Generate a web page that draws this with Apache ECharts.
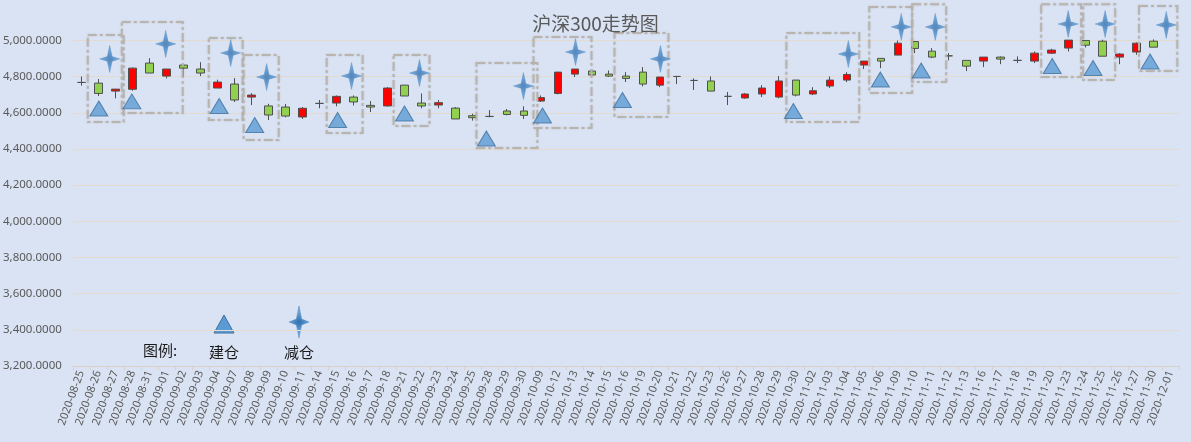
<!DOCTYPE html>
<html>
<head>
<meta charset="utf-8">
<script src="https://cdn.jsdelivr.net/npm/echarts@6/dist/echarts.min.js"></script>
<style>
  html, body { margin: 0; padding: 0; background: #dae3f3; }
  #main { width: 1191px; height: 442px; }
</style>
</head>
<body>
<div id="main"></div>
<script>
// 日期
var dates = ['2020-08-25','2020-08-26','2020-08-27','2020-08-28','2020-08-31',
  '2020-09-01','2020-09-02','2020-09-03','2020-09-04','2020-09-07','2020-09-08','2020-09-09',
  '2020-09-10','2020-09-11','2020-09-14','2020-09-15','2020-09-16','2020-09-17','2020-09-18',
  '2020-09-21','2020-09-22','2020-09-23','2020-09-24','2020-09-25','2020-09-28','2020-09-29',
  '2020-09-30','2020-10-09','2020-10-12','2020-10-13','2020-10-14','2020-10-15','2020-10-16',
  '2020-10-19','2020-10-20','2020-10-21','2020-10-22','2020-10-23','2020-10-26','2020-10-27',
  '2020-10-28','2020-10-29','2020-10-30','2020-11-02','2020-11-03','2020-11-04','2020-11-05',
  '2020-11-06','2020-11-09','2020-11-10','2020-11-11','2020-11-12','2020-11-13','2020-11-16',
  '2020-11-17','2020-11-18','2020-11-19','2020-11-20','2020-11-23','2020-11-24','2020-11-25',
  '2020-11-26','2020-11-27','2020-11-30','2020-12-01'];

// 开盘 / 收盘 / 最低 / 最高 (12-01 无数据)
var opens  = [4768,4764,4720,4730,4875,4803,4864,4842,4737,4759,4687,4638,4632,4577,4652,4654,4687,4641,4638,4753,4654,4643,4626,4584,4580,4610,4610,4665,4707,4814,4831,4814,4803,4825,4753,4801,4779,4776,4691,4682,4704,4687,4781,4704,4748,4781,4864,4901,4919,4994,4941,4915,4890,4886,4908,4890,4886,4930,4958,5000,4996,4908,4936,4996,'-'];
var closes = [4768,4707,4731,4847,4820,4842,4847,4820,4770,4671,4698,4588,4582,4625,4652,4691,4660,4632,4737,4693,4638,4656,4566,4573,4580,4591,4586,4684,4825,4842,4809,4803,4790,4759,4798,4801,4779,4720,4691,4704,4737,4776,4698,4722,4781,4812,4886,4886,4985,4956,4908,4915,4858,4908,4897,4890,4930,4947,5002,4974,4913,4925,4985,4963,'-'];
var lows   = [4750,4693,4680,4722,4820,4790,4799,4803,4737,4660,4643,4560,4575,4566,4625,4636,4641,4604,4634,4693,4625,4625,4566,4557,4575,4586,4566,4660,4702,4798,4809,4798,4770,4746,4742,4759,4726,4720,4643,4678,4687,4680,4691,4698,4737,4770,4842,4847,4919,4930,4902,4890,4831,4853,4869,4875,4875,4925,4939,4961,4913,4869,4921,4963,'-'];
var highs  = [4801,4787,4731,4851,4902,4842,4864,4880,4783,4792,4709,4650,4649,4632,4671,4696,4696,4665,4742,4753,4707,4671,4632,4595,4615,4621,4636,4696,4825,4842,4831,4834,4825,4853,4798,4801,4790,4801,4715,4709,4753,4803,4781,4742,4801,4825,4886,4901,5000,4994,4958,4930,4890,4908,4912,4912,4939,4954,5002,5000,5004,4930,4989,5006,'-'];

// y 轴刻度
var yTicks = [3200, 3400, 3600, 3800, 4000, 4200, 4400, 4600, 4800, 5000];

// 建仓标记 (x 为日期序号)
var buyX = [1.03, 2.97, 8.1, 10.19, 15.06, 18.99, 23.8, 27.1, 31.8, 41.84, 46.95, 49.35, 57.05, 59.45, 62.8];
var buyY = [4624, 4663, 4638, 4533, 4560, 4596, 4458, 4585, 4671, 4610, 4784, 4834, 4859, 4848, 4884];

// 减仓标记
var sellX = [1.67, 4.96, 8.78, 10.89, 15.88, 19.87, 25.98, 29.04, 34.03, 45.07, 48.18, 50.18, 57.99, 60.16, 63.75];
var sellY = [4898, 4981, 4931, 4798, 4804, 4820, 4748, 4936, 4898, 4925, 5075, 5075, 5091, 5091, 5086];

// 虚线框 起止序号 / 上下值
var boxX1 = [0.38, 2.38, 7.49, 9.54, 14.42, 18.35, 23.22, 26.57, 31.33, 41.43, 46.3, 48.82, 56.4, 58.87, 62.15];
var boxX2 = [2.49, 5.96, 9.48, 11.6, 16.53, 20.46, 26.8, 29.98, 34.5, 45.71, 48.82, 50.82, 58.75, 60.75, 64.4];
var boxTop = [5030, 5102, 5014, 4920, 4920, 4920, 4876, 5019, 5041, 5041, 5185, 5200, 5200, 5200, 5191];
var boxBot = [4549, 4599, 4560, 4450, 4488, 4527, 4406, 4516, 4577, 4549, 4710, 4771, 4798, 4782, 4831];

var starPath = 'path://M10,0 L12.4,11.6 L20,14 L12.4,16.4 L10,28 L7.6,16.4 L0,14 L7.6,11.6 Z';
var starFill = {
  type: 'radial', x: 0.5, y: 0.5, r: 0.5,
  colorStops: [{offset: 0, color: '#2f6fb0'}, {offset: 1, color: '#6fa8dc'}]
};

var kData = dates.map(function (d, i) {
  return [opens[i], closes[i], lows[i], highs[i]];
});
var buyData = buyX.map(function (x, i) { return [x, buyY[i]]; });
var sellData = sellX.map(function (x, i) { return [x, sellY[i]]; });
var boxData = boxX1.map(function (x, i) { return [x, boxX2[i], boxTop[i], boxBot[i]]; });

function fmt(v) {
  return v.toLocaleString('en-US', {minimumFractionDigits: 4, maximumFractionDigits: 4});
}

// 图例里的四角星
function starPoints(cx, cy, w, h) {
  var a = w * 0.13, b = h * 0.09;
  return [[cx, cy - h / 2], [cx + a, cy - b], [cx + w / 2, cy], [cx + a, cy + b],
          [cx, cy + h / 2], [cx - a, cy + b], [cx - w / 2, cy], [cx - a, cy - b]];
}

var chart = echarts.init(document.getElementById('main'));
var option = {
  backgroundColor: '#dae3f3',
  animation: false,
  textStyle: { fontFamily: '"Noto Sans", "Noto Sans CJK SC", sans-serif' },
  title: {
    text: '沪深300走势图',
    left: 'center',
    top: 9,
    textStyle: { fontSize: 19, fontWeight: 'normal', color: '#595959',
      fontFamily: '"Noto Sans CJK SC", sans-serif' }
  },
  grid: { left: 72, right: 12, top: 4.3, bottom: 76 },
  xAxis: [{
    type: 'category',
    data: dates,
    boundaryGap: true,
    axisLine: { lineStyle: { color: '#d9d1c7', width: 1 } },
    axisTick: { show: true, alignWithLabel: false, length: 4, lineStyle: { color: '#d9d1c7' } },
    axisLabel: { interval: 0, rotate: 70, fontSize: 11, color: '#595959', margin: 5 },
    splitLine: { show: false }
  }, {
    type: 'value',
    min: -0.5,
    max: dates.length - 0.5,
    show: false
  }],
  yAxis: {
    type: 'value',
    min: yTicks[0],
    max: 5200,
    interval: 200,
    axisLine: { show: false },
    axisTick: { show: false },
    axisLabel: { color: '#595959', fontSize: 11.5, margin: 11, showMaxLabel: false, formatter: fmt },
    splitLine: { show: true, showMaxLine: false, lineStyle: { color: '#e3dad0', width: 1 } }
  },
  series: [{
    name: 'K线',
    type: 'candlestick',
    data: kData,
    barWidth: 8,
    itemStyle: {
      color: '#ff0000',
      color0: '#92d050',
      borderColor: '#505050',
      borderColor0: '#505050',
      borderColorDoji: '#505050',
      borderWidth: 1
    },
    z: 2
  }, {
    name: '框',
    type: 'custom',
    xAxisIndex: 1,
    data: boxData,
    encode: { x: [0, 1], y: [2, 3] },
    silent: true,
    z: 3,
    renderItem: function (params, api) {
      var p1 = api.coord([api.value(0), api.value(2)]);
      var p2 = api.coord([api.value(1), api.value(3)]);
      return {
        type: 'rect',
        shape: { x: p1[0], y: p1[1], width: p2[0] - p1[0], height: p2[1] - p1[1] },
        style: {
          fill: 'none', stroke: '#bab4ae', lineWidth: 2,
          lineDash: [9, 3, 3, 3],
          shadowBlur: 2, shadowColor: 'rgba(0,0,0,0.15)'
        }
      };
    }
  }, {
    name: '建仓',
    type: 'scatter',
    xAxisIndex: 1,
    data: buyData,
    symbol: 'triangle',
    symbolSize: [18, 15],
    clip: false,
    itemStyle: { color: '#5b9bd5', borderColor: '#41719c', borderWidth: 1 },
    z: 4
  }, {
    name: '减仓',
    type: 'scatter',
    xAxisIndex: 1,
    data: sellData,
    symbol: starPath,
    symbolSize: [20, 27],
    clip: false,
    itemStyle: { color: starFill, borderColor: '#4a86c0', borderWidth: 0.5 },
    z: 4
  }],
  graphic: [
    { type: 'text', left: 143, top: 343,
      style: { text: '图例:', fontSize: 15, fill: '#1a1a1a', fontFamily: '"Noto Sans CJK SC", sans-serif' } },
    { type: 'polygon', shape: { points: [[224, 315], [234, 333], [214, 333]] },
      style: { fill: '#5b9bd5', stroke: '#41719c', lineWidth: 1 } },
    { type: 'text', left: 209, top: 345,
      style: { text: '建仓', fontSize: 15, fill: '#1a1a1a', fontFamily: '"Noto Sans CJK SC", sans-serif' } },
    { type: 'polygon', shape: { points: starPoints(299, 322, 20, 32) },
      style: { fill: starFill, stroke: '#4a86c0', lineWidth: 0.5 } },
    { type: 'text', left: 284, top: 345,
      style: { text: '减仓', fontSize: 15, fill: '#1a1a1a', fontFamily: '"Noto Sans CJK SC", sans-serif' } }
  ]
};
chart.setOption(option);
</script>
</body>
</html>
